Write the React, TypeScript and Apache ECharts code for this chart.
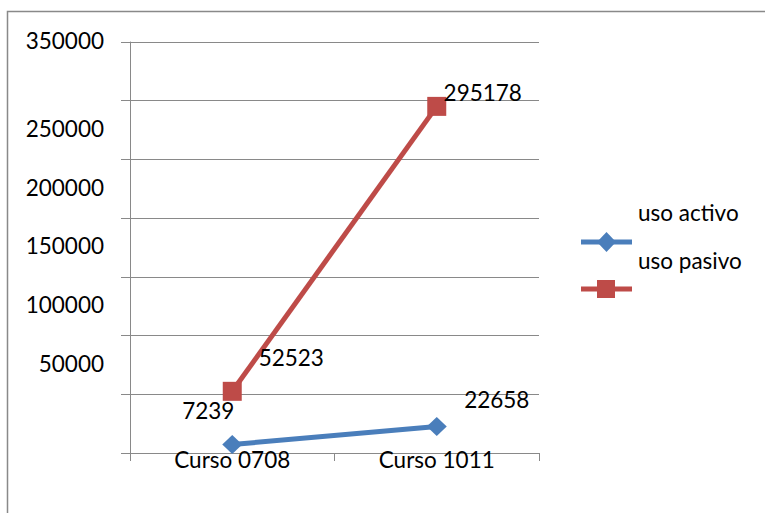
import React, { useEffect, useRef } from "react";
import * as echarts from "echarts";

const categories = ["Curso 0708", "Curso 1011"];
const usoActivo = [7239, 22658];
const usoPasivo = [52523, 295178];
const yTicks = { min: 0, max: 350000, interval: 50000 };
const seriesNames = ["uso activo", "uso pasivo"];

const FONT = "Lato";
const FS = 22.5;

export default function App() {
  const ref = useRef<HTMLDivElement>(null);
  useEffect(() => {
    if (!ref.current) return;
    const chart = echarts.init(ref.current, null, { renderer: "svg" });
    const blue = "#4A7EBB";
    const red = "#BE4B48";
    const activoOffsets = [[-24, -34], [60, -27]];
    const pasivoOffsets = [[59, -34], [46, -14]];
    const mk = (vals: number[], offs: number[][]) =>
      vals.map((v, i) => ({
        value: v,
        label: { offset: offs[i] },
      }));
    const labelBase = {
      show: true,
      position: "inside",
      align: "center",
      verticalAlign: "middle",
      color: "#000",
      fontFamily: FONT,
      fontSize: FS,
    };
    chart.setOption({
      animation: false,
      backgroundColor: "#fff",
      grid: { left: 130, right: 226, top: 42, bottom: 60, containLabel: false },
      xAxis: {
        type: "category",
        data: categories,
        boundaryGap: true,
        axisLine: { lineStyle: { color: "#898989", width: 1 } },
        axisTick: { show: true, length: 8, lineStyle: { color: "#898989" } },
        axisLabel: {
          color: "#000",
          fontFamily: FONT,
          fontSize: FS,
          margin: 6,
          verticalAlign: "middle",
        },
      },
      yAxis: {
        type: "value",
        min: yTicks.min,
        max: yTicks.max,
        interval: yTicks.interval,
        axisLine: { show: true, lineStyle: { color: "#898989", width: 1 } },
        axisTick: { show: true, length: 9, lineStyle: { color: "#898989" } },
        splitLine: { show: true, lineStyle: { color: "#898989", width: 1 } },
        axisLabel: {
          margin: 26,
          color: "#000",
          fontFamily: FONT,
          fontSize: FS,
          formatter: (v: number) =>
            v === 0 || v === 300000 ? "" : v === 350000 ? `{t|${v}}` : `{s|${v}}`,
          rich: {
            t: { fontFamily: FONT, fontSize: FS, color: "#000", padding: [0, 0, 4, 0] },
            s: { fontFamily: FONT, fontSize: FS, color: "#000", padding: [0, 0, 62, 0] },
          },
        },
      },
      series: [
        {
          name: seriesNames[0],
          type: "line",
          data: mk(usoActivo, activoOffsets),
          symbol: "diamond",
          symbolSize: [20, 19],
          itemStyle: { color: blue },
          lineStyle: { color: blue, width: 5 },
          label: labelBase,
          z: 3,
        },
        {
          name: seriesNames[1],
          type: "line",
          data: mk(usoPasivo, pasivoOffsets),
          symbol: "rect",
          symbolSize: 19,
          itemStyle: { color: red },
          lineStyle: { color: red, width: 5 },
          label: labelBase,
          z: 3,
        },
      ],
      graphic: [
        {
          type: "rect",
          shape: { x: 7.5, y: 11.5, width: 800, height: 600 },
          style: { fill: "none", stroke: "#898989", lineWidth: 1.5 },
          silent: true,
        },
        {
          type: "line",
          shape: { x1: 581, y1: 242, x2: 632, y2: 242 },
          style: { stroke: blue, lineWidth: 5 },
        },
        {
          type: "polygon",
          shape: { points: [[606.5, 232], [616, 242], [606.5, 252], [597, 242]] },
          style: { fill: blue },
        },
        {
          type: "text",
          x: 638,
          y: 212,
          style: { text: seriesNames[0], fontFamily: FONT, fontSize: FS, fill: "#000", verticalAlign: "middle" },
        },
        {
          type: "line",
          shape: { x1: 581, y1: 289, x2: 632, y2: 289 },
          style: { stroke: red, lineWidth: 5 },
        },
        {
          type: "rect",
          shape: { x: 597, y: 280, width: 18, height: 18 },
          style: { fill: red },
        },
        {
          type: "text",
          x: 638,
          y: 260,
          style: { text: seriesNames[1], fontFamily: FONT, fontSize: FS, fill: "#000", verticalAlign: "middle" },
        },
      ],
    });
    return () => chart.dispose();
  }, []);
  return (
    <div
      ref={ref}
      style={{ position: "fixed", left: 0, top: 0, width: 765, height: 513 }}
    />
  );
}
